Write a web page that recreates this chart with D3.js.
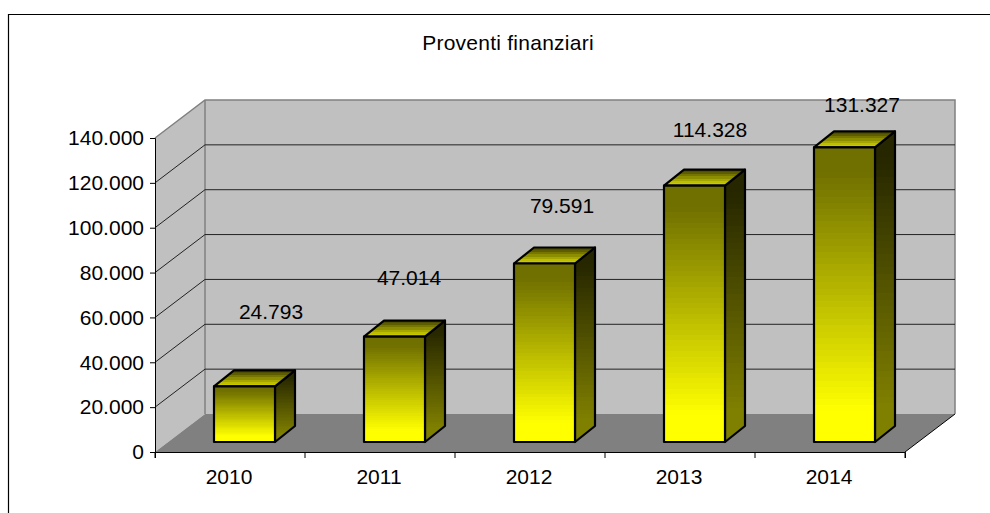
<!DOCTYPE html>
<html>
<head>
<meta charset="utf-8">
<script src="https://cdn.jsdelivr.net/npm/d3@7"></script>
<style>
  html, body { margin: 0; padding: 0; background: #fff; overflow: hidden; }
  text { font-family: "Liberation Sans", Arial, sans-serif; fill: #000; }
  .axis text { font-size: 21px; }
  .axis .domain, .axis line { stroke: #000; stroke-width: 1; }
</style>
</head>
<body>
<div id="chart"></div>
<script>
var years = ["2010", "2011", "2012", "2013", "2014"];
var proventi = [24793, 47014, 79591, 114328, 131327];
var yTicks = [0, 20000, 40000, 60000, 80000, 100000, 120000, 140000];
var chartTitle = "Proventi finanziari";

var width = 990, height = 513;
// plot box, front plane
var plot = { left: 155, right: 905, top: 138, bottom: 452 };
var depth = { x: 50, y: 38 }; // wall offset
var barDepth = { x: 20, y: 16 };
var barShift = { x: 59, y: 10 }; // front face of the bar inside its band
var barWidth = 61;
// the labels were moved by hand in the original, so they don't sit at a fixed distance
var labelLift = [75, 59, 58, 56, 43];
var labelDx = [41, 29, 32, 30, 32];

var svg = d3.select("#chart").append("svg")
  .attr("width", width)
  .attr("height", height)
  .style("display", "block");

var it = d3.formatLocale({ decimal: ",", thousands: ".", grouping: [3], currency: ["", ""] });

var x = d3.scaleBand().domain(years).range([plot.left, plot.right]);
var y = d3.scaleLinear().domain([0, 140000]).range([plot.bottom, plot.top]);

function poly(points) {
  return d3.line()(points) + "Z";
}

// stepped gradient, flat at both ends like the original
function banded(id, from, to, steps) {
  var col = d3.scaleLinear().domain([0.08, 0.9]).range([from, to]).clamp(true);
  var grad = svg.append("defs").append("linearGradient")
    .attr("id", id)
    .attr("x1", 0).attr("y1", 0)
    .attr("x2", 0).attr("y2", 1);
  d3.range(steps).forEach(function (i) {
    var c = col(i / (steps - 1));
    grad.append("stop").attr("offset", i / steps).attr("stop-color", c);
    grad.append("stop").attr("offset", (i + 1) / steps).attr("stop-color", c);
  });
}
banded("frontFill", "#707000", "#ffff00", 48);
banded("sideFill", "#262600", "#808000", 48);
banded("topFill", "#505000", "#c8c800", 7);

// outer frame, only top and left are inside the picture
svg.append("path")
  .attr("d", d3.line()([[8.5, height + 2], [8.5, 14.5], [width + 2, 14.5]]))
  .attr("fill", "none")
  .attr("stroke", "#000")
  .attr("stroke-width", 1.2);

svg.append("text")
  .attr("x", 508)
  .attr("y", 50)
  .attr("text-anchor", "middle")
  .style("font-size", "21px")
  .style("letter-spacing", "0.25px")
  .text(chartTitle);

// walls and floor
var walls = svg.append("g");
walls.append("path")
  .attr("d", poly([[plot.left, plot.top], [plot.left + depth.x, plot.top - depth.y],
    [plot.left + depth.x, plot.bottom - depth.y], [plot.left, plot.bottom]]))
  .attr("fill", "#c0c0c0");
walls.append("rect")
  .attr("x", plot.left + depth.x)
  .attr("y", plot.top - depth.y)
  .attr("width", plot.right - plot.left)
  .attr("height", plot.bottom - plot.top)
  .attr("fill", "#c0c0c0");
walls.append("path")
  .attr("d", poly([[plot.left, plot.bottom], [plot.left + depth.x, plot.bottom - depth.y],
    [plot.right + depth.x, plot.bottom - depth.y], [plot.right, plot.bottom]]))
  .attr("fill", "#808080");

// gridlines
var grid = svg.append("g");
yTicks.slice(1, -1).forEach(function (v) {
  grid.append("path")
    .attr("d", d3.line()([[plot.left, y(v)], [plot.left + depth.x, y(v) - depth.y],
      [plot.right + depth.x, y(v) - depth.y]]))
    .attr("fill", "none")
    .attr("stroke", "#222")
    .attr("stroke-width", 1);
});

// wall outline
walls.append("path")
  .attr("d", d3.line()([[plot.left, plot.top], [plot.left + depth.x, plot.top - depth.y],
    [plot.right + depth.x, plot.top - depth.y], [plot.right + depth.x, plot.bottom - depth.y]]))
  .attr("fill", "none")
  .attr("stroke", "#808080")
  .attr("stroke-width", 1.5);
walls.append("line")
  .attr("x1", plot.left + depth.x).attr("x2", plot.left + depth.x)
  .attr("y1", plot.top - depth.y).attr("y2", plot.bottom - depth.y)
  .attr("stroke", "#808080")
  .attr("stroke-width", 1.5);
svg.append("line")
  .attr("x1", plot.right).attr("y1", plot.bottom)
  .attr("x2", plot.right + depth.x).attr("y2", plot.bottom - depth.y)
  .attr("stroke", "#000");

// bars
var bar = svg.append("g").selectAll("g")
  .data(proventi)
  .enter()
  .append("g")
  .attr("stroke", "#000")
  .attr("stroke-width", 2.2)
  .attr("stroke-linejoin", "round");

function barLeft(i) { return x(years[i]) + barShift.x; }
function barBase() { return y(0) - barShift.y; }
function barTop(d) { return y(d) - barShift.y; }

bar.append("path")
  .attr("fill", "url(#sideFill)")
  .attr("d", function (d, i) {
    var r = barLeft(i) + barWidth;
    return poly([[r, barTop(d)], [r + barDepth.x, barTop(d) - barDepth.y],
      [r + barDepth.x, barBase() - barDepth.y], [r, barBase()]]);
  });
bar.append("path")
  .attr("fill", "url(#topFill)")
  .attr("d", function (d, i) {
    var l = barLeft(i);
    return poly([[l, barTop(d)], [l + barDepth.x, barTop(d) - barDepth.y],
      [l + barWidth + barDepth.x, barTop(d) - barDepth.y], [l + barWidth, barTop(d)]]);
  });
bar.append("rect")
  .attr("fill", "url(#frontFill)")
  .attr("x", function (d, i) { return barLeft(i); })
  .attr("y", barTop)
  .attr("width", barWidth)
  .attr("height", function (d) { return barBase() - barTop(d); });

// axes
svg.append("g")
  .attr("class", "axis")
  .attr("transform", "translate(" + plot.left + ",0)")
  .call(d3.axisLeft(y).tickValues(yTicks).tickSize(5).tickPadding(6).tickFormat(it.format(",d")))
  .call(function (g) { g.selectAll("text").attr("font-family", null); });

svg.append("g")
  .attr("class", "axis")
  .attr("transform", "translate(0," + plot.bottom + ")")
  .call(d3.axisBottom(x).tickSize(6).tickPadding(11).tickSizeOuter(6))
  .call(function (g) {
    g.selectAll(".tick line").remove();
    g.selectAll("text").attr("font-family", null).attr("dx", -1);
  });
svg.append("g")
  .selectAll("line")
  .data(years.concat(["end"]))
  .enter()
  .append("line")
  .attr("x1", function (d, i) { return plot.left + i * x.step(); })
  .attr("x2", function (d, i) { return plot.left + i * x.step(); })
  .attr("y1", plot.bottom)
  .attr("y2", plot.bottom + 6)
  .attr("stroke", "#000");

// value labels
svg.append("g").selectAll("text")
  .data(proventi)
  .enter()
  .append("text")
  .attr("x", function (d, i) { return x(years[i]) + x.bandwidth() / 2 + labelDx[i]; })
  .attr("y", function (d, i) { return barTop(d) - labelLift[i]; })
  .attr("dy", ".35em")
  .attr("text-anchor", "middle")
  .style("font-size", "21px")
  .text(function (d) { return it.format(",d")(d); });
</script>
</body>
</html>
